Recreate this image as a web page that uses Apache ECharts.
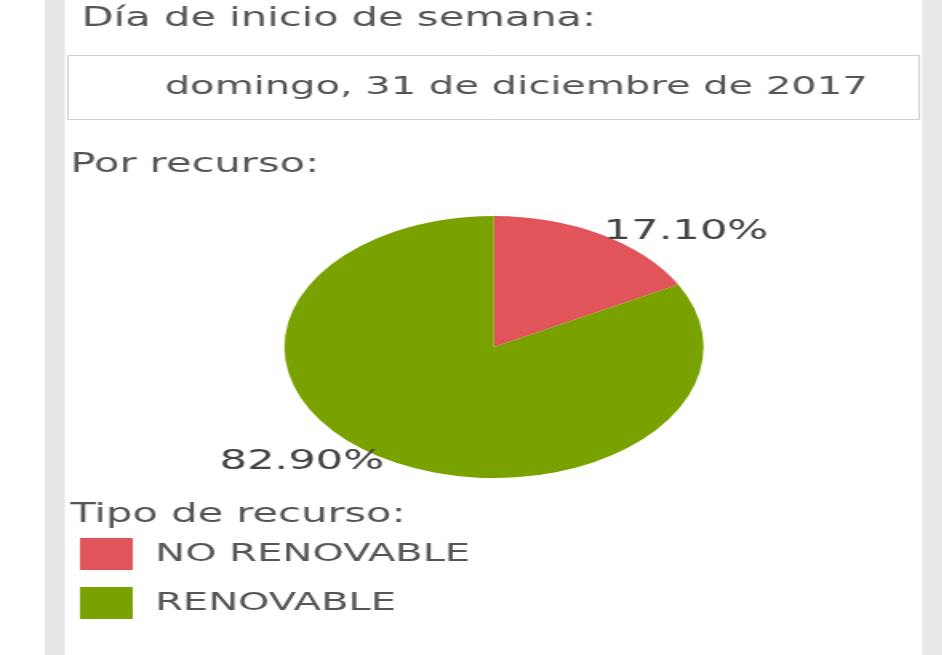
<!DOCTYPE html>
<html>
<head>
<meta charset="utf-8">
<script src="https://cdn.jsdelivr.net/npm/echarts@6/dist/echarts.min.js"></script>
<style>
    html, body { margin: 0; padding: 0; background: #fff; overflow: hidden; }
    #wrap { width: 942px; height: 655px; overflow: hidden; }
    /* the reference screenshot is stretched horizontally, so the chart is too */
    #porRecurso { width: 589px; height: 655px; transform: scaleX(1.6); transform-origin: 0 0; }
</style>
</head>
<body>
<div id="wrap"><div id="porRecurso"></div></div>
<script>
    var tipos = ['NO RENOVABLE', 'RENOVABLE'];
    var porcentajes = [17.1, 82.9];
    var colores = ['#e15459', '#79a200'];
    var diaInicio = 'domingo, 31 de diciembre de 2017';

    var fuente = '"DejaVu Sans", sans-serif';
    var gris = '#555';

    function texto(t, x, y, size) {
        return {
            type: 'text',
            x: x,
            y: y,
            style: {
                text: t,
                font: size + 'px ' + fuente,
                fill: gris,
                verticalAlign: 'middle'
            }
        };
    }

    function porRecurso() {
        var data = [];
        for (var i = 0; i < tipos.length; i++) {
            data.push({ name: tipos[i], value: porcentajes[i], itemStyle: { color: colores[i] } });
        }
        var option = {
            animation: false,
            backgroundColor: '#fff',
            graphic: [
                { type: 'rect', shape: { x: 28, y: 0, width: 12.5, height: 655 }, style: { fill: '#e6e6e6' } },
                { type: 'rect', shape: { x: 576.3, y: 0, width: 13, height: 655 }, style: { fill: '#e8e8e8' } },
                { type: 'rect', shape: { x: 42.5, y: 55.5, width: 532, height: 64 }, style: { fill: 'none', stroke: '#cfcfcf', lineWidth: 1 } },
                texto('Día de inicio de semana:', 51, 19, 26),
                texto(diaInicio, 103, 87, 25),
                texto('Por recurso:', 44, 165, 26),
                texto('Tipo de recurso:', 44, 515, 26)
            ],
            legend: {
                orient: 'vertical',
                left: 50,
                top: 538,
                padding: 0,
                icon: 'rect',
                itemWidth: 33,
                itemHeight: 32,
                itemGap: 17,
                selectedMode: false,
                data: tipos,
                textStyle: {
                    fontSize: 25,
                    fontFamily: fuente,
                    color: gris,
                    padding: [0, 0, 0, 9]
                }
            },
            series: [{
                type: 'pie',
                center: [308.75, 347],
                radius: 131,
                startAngle: 90,
                clockwise: true,
                avoidLabelOverlap: false,
                silent: true,
                data: data,
                label: {
                    position: 'outside',
                    fontSize: 27,
                    fontFamily: fuente,
                    color: '#444',
                    distanceToLabelLine: 0,
                    formatter: function (p) {
                        return p.percent.toFixed(2) + '%';
                    }
                },
                labelLine: { show: false, length: 3, length2: 0 }
            }]
        };
        var myChart = echarts.init(document.getElementById('porRecurso'));
        myChart.setOption(option);
    }

    porRecurso();
</script>
</body>
</html>
